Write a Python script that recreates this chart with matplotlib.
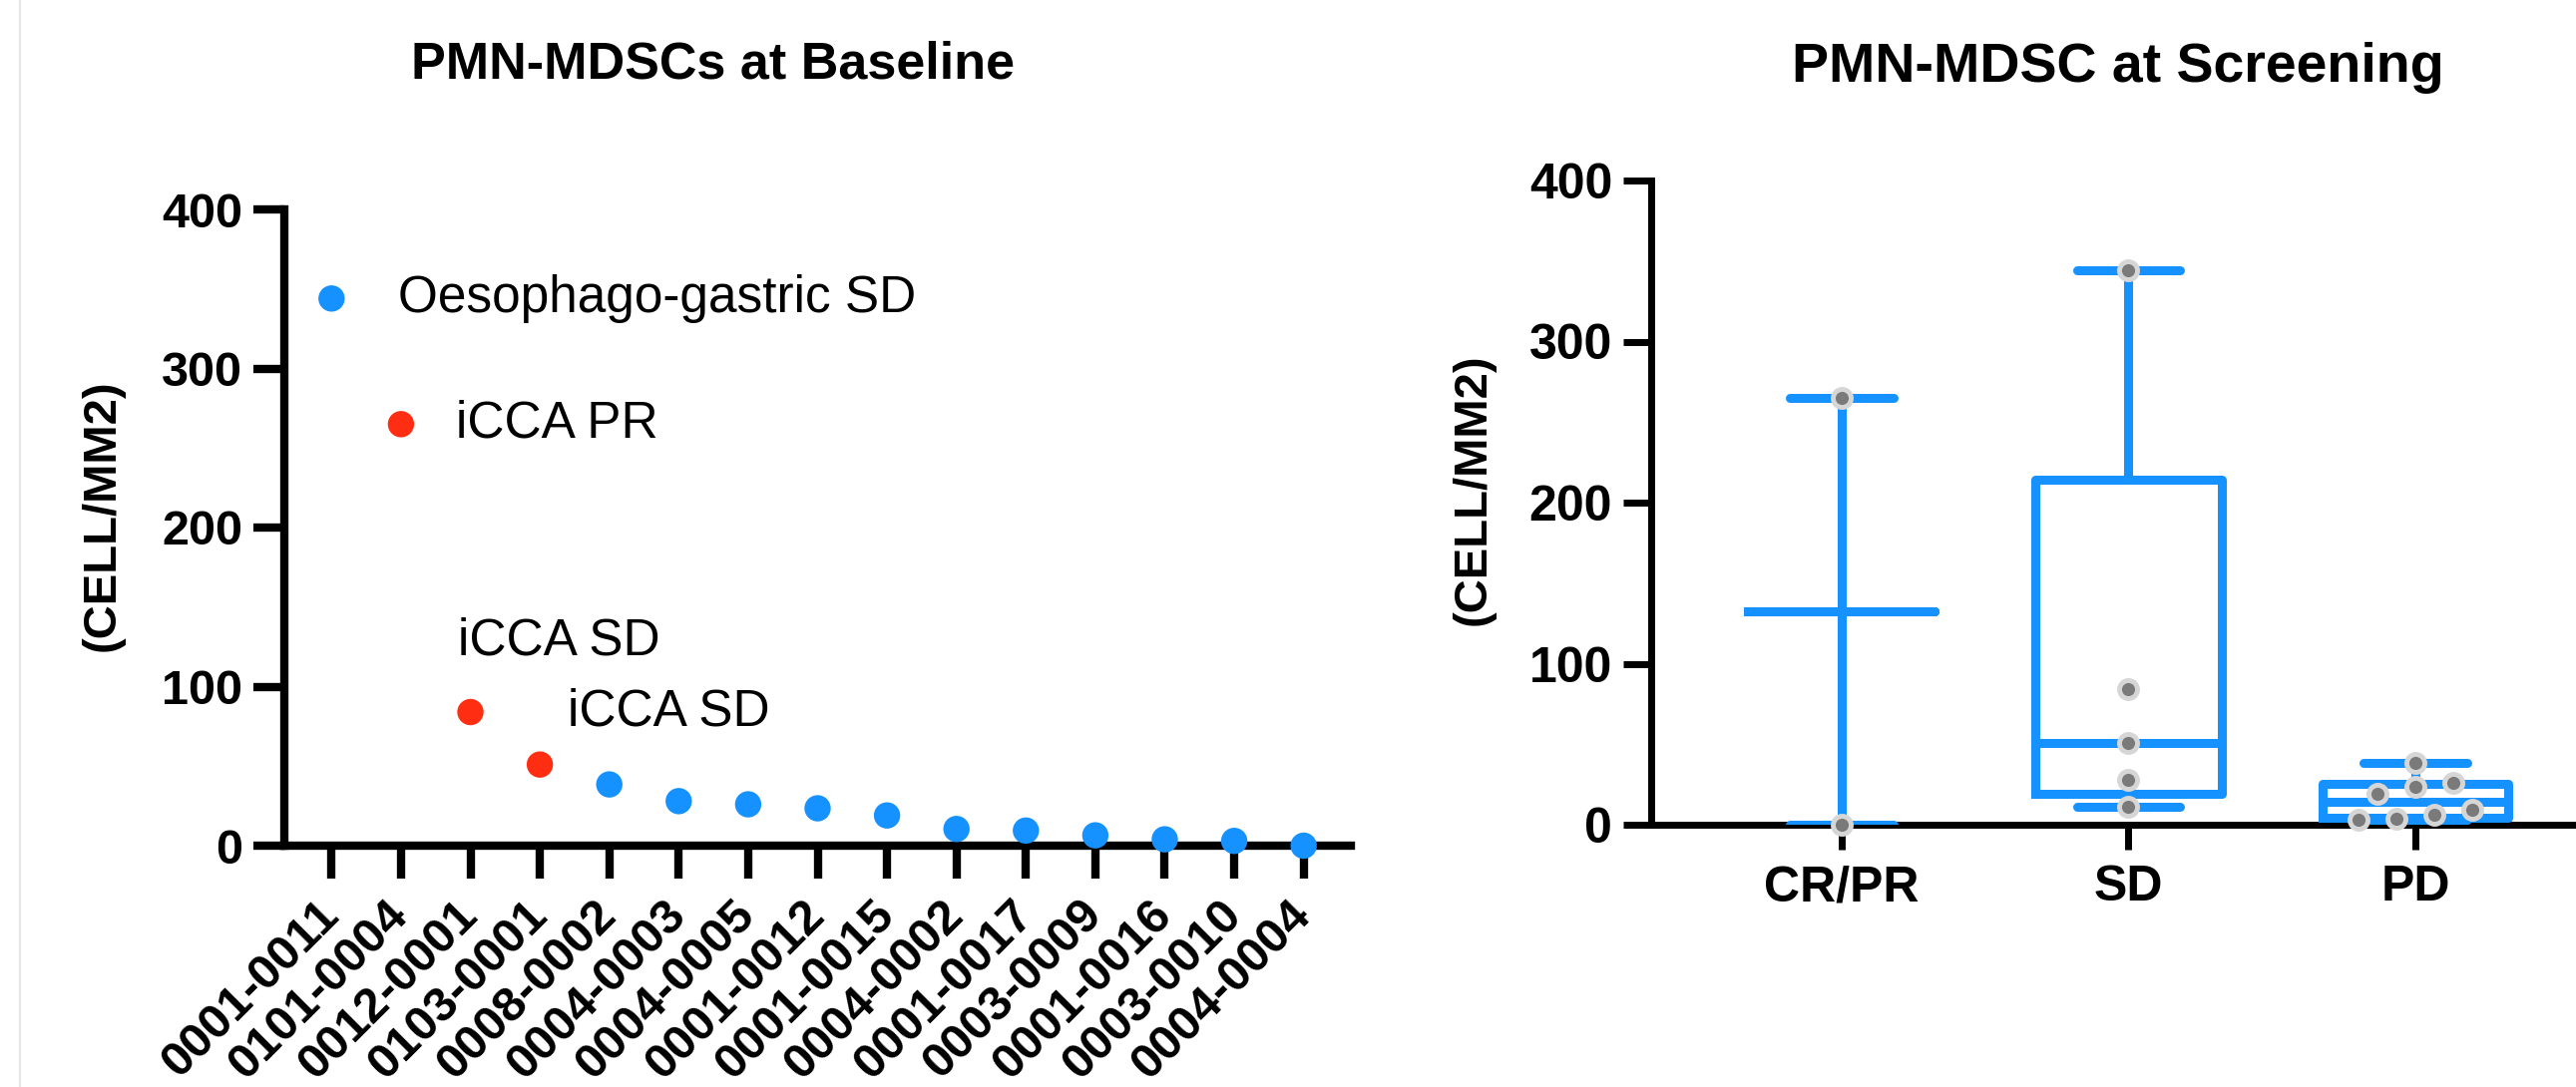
"""PMN-MDSC density: per-patient baseline (left) and by response at screening (right)."""
import matplotlib

matplotlib.use("Agg")
import matplotlib.pyplot as plt
import numpy as np

plt.rcParams["font.family"] = ["Liberation Sans", "DejaVu Sans"]

# left panel: one value per patient, sorted high to low
patient_ids = [
    "0001-0011", "0101-0004", "0012-0001", "0103-0001", "0008-0002",
    "0004-0003", "0004-0005", "0001-0012", "0001-0015", "0004-0002",
    "0001-0017", "0003-0009", "0001-0016", "0003-0010", "0004-0004",
]
baseline_values = [344, 265, 84, 51, 38.5, 28, 26, 23.5, 19, 10.5, 9.5, 6.5, 4, 3, 0]
is_icca = [False, True, True, True] + [False] * 11
point_notes = ["Oesophago-gastric SD", "iCCA PR", "iCCA SD", "iCCA SD"]

# right panel: screening values grouped by best response
groups = ["CR/PR", "SD", "PD"]
crpr_values = [265, 0]
sd_values = [344, 84, 51, 28, 11]
pd_values = [38.5, 26, 23.5, 19, 9.5, 6.5, 4, 3]

BLUE = "#1592ff"
RED = "#ff2d12"
W, H, DPI = 2582, 1090, 100


def prism_stats(vals):
    """Box stats the way Prism draws them: (n+1)p quartiles, whiskers min..max."""
    v = np.sort(np.asarray(vals, float))
    med = float(np.median(v))
    if len(v) < 3:
        q1 = q3 = med
    else:
        q1, q3 = np.percentile(v, [25, 75], method="weibull")
    return dict(med=med, q1=q1, q3=q3, whislo=v[0], whishi=v[-1], fliers=[])


def binned_offsets(vals, bin_h, step):
    """Spread points sharing a y bin symmetrically around the group centre."""
    vals = np.asarray(vals, float)
    bins = np.floor(vals / bin_h).astype(int)
    offs = np.zeros(len(vals))
    for b in np.unique(bins):
        idx = np.where(bins == b)[0]
        idx = idx[np.argsort(vals[idx])]
        offs[idx] = (np.arange(len(idx)) - (len(idx) - 1) / 2) * step
    return offs


fig = plt.figure(figsize=(W / DPI, H / DPI), dpi=DPI)
fig.add_artist(plt.Line2D([20 / W, 20 / W], [0, 1], color="#e6e6e6", lw=1.5,
                          transform=fig.transFigure))

# ---- left: baseline ----
ax1 = fig.add_axes([285 / W, 1 - 848 / H, 1069 / W, 638 / H])
x = np.arange(len(patient_ids))
colors = [RED if c else BLUE for c in is_icca]
ax1.scatter(x, baseline_values, s=19 ** 2, c=colors, zorder=4, clip_on=False,
            linewidths=0)
note_offsets = [(48, 0), (40, 0), (70, 0), (-59, 89)]
for i, (txt, off) in enumerate(zip(point_notes, note_offsets)):
    ax1.annotate(txt, (x[i], baseline_values[i]), xytext=off,
                 textcoords="offset points", ha="left", va="center",
                 fontsize=37)
ax1.set_xlim(-0.68, 14.68)
ax1.set_ylim(0, 400)
ax1.set_yticks([0, 100, 200, 300, 400])
ax1.set_xticks(x, patient_ids, rotation=45, ha="right", va="center",
               rotation_mode="anchor", fontsize=35, fontweight="bold")
for lab in ax1.get_yticklabels():
    lab.set_fontsize(35)
    lab.set_fontweight("bold")
ax1.spines[["top", "right"]].set_visible(False)
for s in ("left", "bottom"):
    ax1.spines[s].set_linewidth(6)
ax1.tick_params(axis="y", direction="out", length=22, width=6, pad=8)
ax1.tick_params(axis="x", direction="out", length=24, width=6, pad=21)
ax1.set_ylabel("(CELL/MM2)", fontsize=34, fontweight="bold")
ax1.yaxis.set_label_coords(-0.150, 0.52)

# ---- right: screening by response ----
ax2 = fig.add_axes([1655 / W, 1 - 827 / H, 927 / W, 646 / H])
pos = np.arange(1, len(groups) + 1)
group_vals = [crpr_values, sd_values, pd_values]
line = dict(color=BLUE, linewidth=6.5)
ax2.bxp([prism_stats(v) for v in group_vals], positions=pos, widths=0.65,
        capwidths=0.36, showfliers=False, zorder=3,
        boxprops=line, whiskerprops=line, medianprops=line,
        capprops=dict(line, solid_capstyle="round"))
ax2.set_xlim(0.336, 3.56)
ax2.set_ylim(0, 400)
bin_h = 25 / (ax2.transData.transform((0, 1))[1] - ax2.transData.transform((0, 0))[1])
for p, v in zip(pos, group_vals):
    offs = binned_offsets(v, bin_h, 0.133)
    ax2.plot(p + offs, v, "o", ms=13, mfc="#7a7a7a", mec="#d6d6d6", mew=3.5,
             ls="none", zorder=5, clip_on=False)
ax2.set_xticks(pos, groups, fontsize=36, fontweight="bold")
ax2.set_yticks([0, 100, 200, 300, 400])
for lab in ax2.get_yticklabels():
    lab.set_fontsize(36)
    lab.set_fontweight("bold")
ax2.spines[["top", "right"]].set_visible(False)
for s in ("left", "bottom"):
    ax2.spines[s].set_linewidth(5)
ax2.tick_params(axis="y", direction="out", length=20, width=5, pad=8)
ax2.tick_params(axis="x", direction="out", length=18, width=5, pad=11)
ax2.set_ylabel("(CELL/MM2)", fontsize=34, fontweight="bold")
ax2.yaxis.set_label_coords(-0.169, 0.52)

fig.text(715 / W, 1 - 78 / H, "PMN-MDSCs at Baseline", ha="center",
         va="baseline", fontsize=37.5, fontweight="bold")
fig.text(2123 / W, 1 - 82 / H, "PMN-MDSC at Screening", ha="center",
         va="baseline", fontsize=40, fontweight="bold")

fig.savefig("out.png", dpi=DPI, facecolor="white")
